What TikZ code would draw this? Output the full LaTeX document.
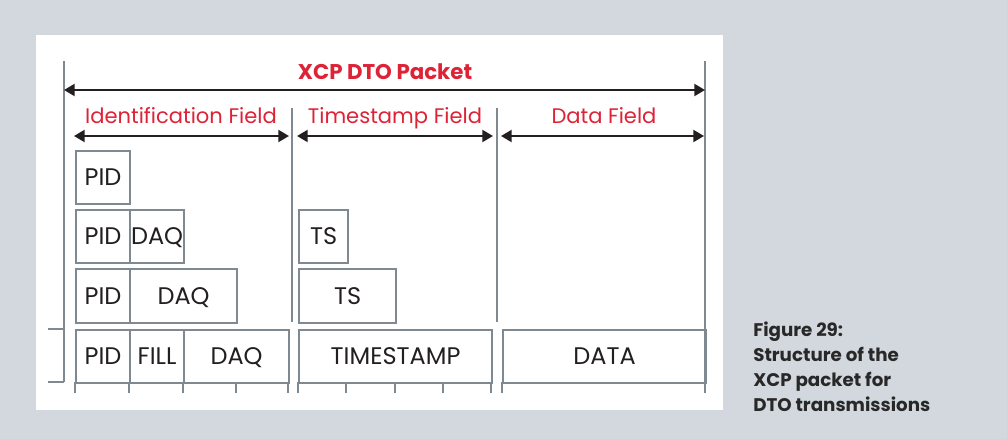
\documentclass[tikz,border=0pt]{standalone}
\usepackage{fontspec}
\setmainfont{Poppins}
\usetikzlibrary{arrows.meta}
\definecolor{bggray}{RGB}{210,216,222}
\definecolor{linegray}{RGB}{126,137,145}
\definecolor{xred}{RGB}{222,35,55}
\definecolor{txt}{RGB}{35,31,32}
\definecolor{captxt}{RGB}{40,40,40}
\tikzset{
  cell/.style={draw=linegray, line width=1.6pt, inner sep=0pt, text=txt, font=\fontsize{18}{20}\selectfont, anchor=north west, text height=12.6pt, text depth=0pt},
  sep/.style={draw=linegray, line width=1.6pt},
  dim/.style={draw=txt, line width=1.5pt, {Triangle[length=8pt,width=9pt]}-{Triangle[length=8pt,width=9pt]}},
  flabel/.style={text=xred, font=\fontsize{15.8}{18}\selectfont, anchor=base},
}
\newcommand\cellbox[6]{\node[cell, minimum width=#4*0.75pt, minimum height=#5*0.75pt] (#1) at (#2,#3) {#6};}
\begin{document}
\begin{tikzpicture}[x=0.75pt, y=-0.75pt]
\fill[bggray] (0,0) rectangle (1007,439);
\fill[white] (36,35) rectangle (723,410);
\useasboundingbox (0,0) rectangle (1007,439);

% vertical separators
\coordinate (L0) at (64,61);  \coordinate (L1) at (64,382);
\coordinate (A0) at (292,108); \coordinate (A1) at (292,322);
\coordinate (B0) at (497,108); \coordinate (B1) at (497,322);
\coordinate (R0) at (705,61);  \coordinate (R1) at (705,393);
\draw[sep] (L0) -- (L1);
\draw[sep] (A0) -- (A1);
\draw[sep] (B0) -- (B1);
\draw[sep] (R0) -- (R1);
\coordinate (T0) at (48,329); \coordinate (T1) at (64,329);
\coordinate (U0) at (48,382);
\draw[sep] (T0) -- (T1);
\draw[sep] (U0) -- (L1);

% dimension arrows
\coordinate (pk0) at (64,90); \coordinate (pk1) at (705,90);
\draw[dim] (pk0) -- (pk1);
\node[text=xred, font=\fontsize{16}{18}\selectfont\bfseries, anchor=base] (pkt) at (385,79) {XCP DTO Packet};
\coordinate (id0) at (74,136); \coordinate (id1) at (289,136);
\coordinate (ts0) at (297,136); \coordinate (ts1) at (493,136);
\coordinate (dt0) at (501,136); \coordinate (dt1) at (704,136);
\draw[dim] (id0) -- (id1);
\draw[dim] (ts0) -- (ts1);
\draw[dim] (dt0) -- (dt1);
\node[flabel] (idl) at (181,123) {Identification Field};
\node[flabel] (tsl) at (395,123) {Timestamp Field};
\node[flabel] (dtl) at (604,123) {Data Field};

% row 1
\cellbox{p1}{75}{150}{54}{53}{PID}
% row 2
\cellbox{p2}{75}{209}{54}{53}{PID}
\cellbox{d2}{129}{209}{54}{53}{DAQ}
\cellbox{t2}{298}{209}{49}{53}{TS}
% row 3
\cellbox{p3}{75}{268}{54}{54}{PID}
\cellbox{d3}{129}{268}{107}{54}{DAQ}
\cellbox{t3}{298}{268}{97}{54}{TS}
% row 4
\cellbox{p4}{75}{329}{54}{53}{PID}
\cellbox{f4}{129}{329}{54}{53}{FILL}
\cellbox{d4}{183}{329}{105}{53}{DAQ}
\cellbox{t4}{298}{329}{193}{53}{TIMESTAMP}
\cellbox{a4}{502}{329}{203}{53}{DATA}

% stubs below row 4
\foreach \x in {75,129,183,236,288,298,346,395,443,491,502,705}{
  \draw[sep] (\x,382) -- (\x,393);
}

% caption
\node[anchor=north west, align=left, text=captxt, font=\fontsize{13.7}{18.75}\selectfont\bfseries, inner sep=0pt] (cap) at (753,322)
  {Figure 29:\\Structure of the\\XCP packet for\\DTO transmissions};
\end{tikzpicture}
\end{document}
